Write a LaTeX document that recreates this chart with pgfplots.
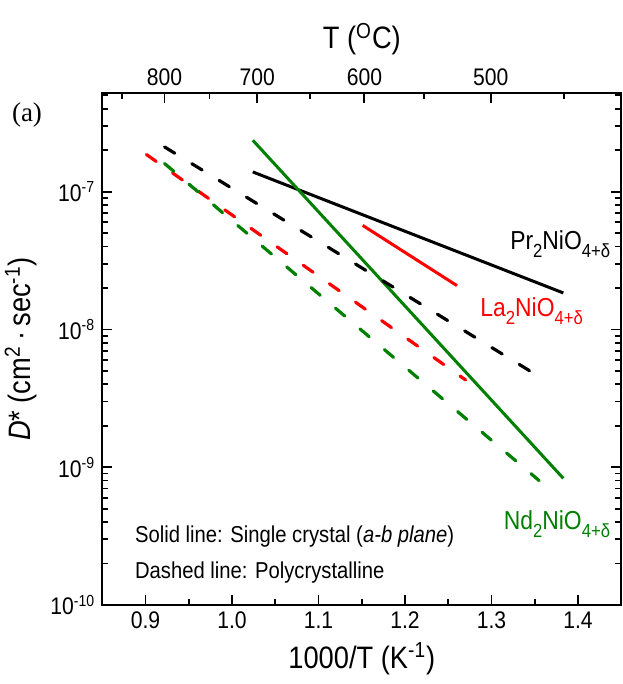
\documentclass[border=0pt]{standalone}
\usepackage{fontspec}
\setmainfont{Liberation Sans}[FakeStretch=0.88]
\newfontfamily\serif{Liberation Serif}
\usepackage{pgfplots}
\pgfplotsset{compat=1.18}
\definecolor{dgreen}{RGB}{0,128,0}
\newcommand{\sub}[1]{\raisebox{-0.3em}{\fontsize{9.5}{9.5}\selectfont #1}}

\pgfplotsset{
  common/.style={
    at={(0,0)}, anchor=south west,
    scale only axis, width=259.5pt, height=256pt,
    xmin=0.85, xmax=1.45,
    tick align=inside,
    major tick length=5pt, minor tick length=3pt,
    tick style={black, line width=0.9pt},
    axis line style={-, line width=1pt},
    ticklabel style={font=\fontsize{12}{14}\selectfont},
    label style={font=\fontsize{15.5}{18}\selectfont},
  },
  sol/.style={line width=1.5pt},
  dsh/.style={line width=1.6pt, line cap=round, dash pattern=on 6pt off 10pt},
}

\begin{document}
\begin{tikzpicture}
\path[use as bounding box] (-51.15pt,-39.5pt) rectangle (259.85pt,302.5pt);

\begin{axis}[
  common,
  ymode=log, ymin=1e-10, ymax=5.2e-7,
  xtick={0.9,1.0,1.1,1.2,1.3,1.4},
  xticklabels={0.9,1.0,1.1,1.2,1.3,1.4},
  minor xtick={0.95,1.05,1.15,1.25,1.35},
  xtick pos=lower,
  ytick={1e-10,1e-9,1e-8,1e-7},
  yticklabels={10\textsuperscript{-10},10\textsuperscript{-9},10\textsuperscript{-8},10\textsuperscript{-7}},
  minor ytick={2e-10,3e-10,4e-10,5e-10,6e-10,7e-10,8e-10,9e-10,
               2e-9,3e-9,4e-9,5e-9,6e-9,7e-9,8e-9,9e-9,
               2e-8,3e-8,4e-8,5e-8,6e-8,7e-8,8e-8,9e-8,
               2e-7,3e-7,4e-7,5e-7},
  xlabel={1000/T (K\textsuperscript{-1})},
  ylabel={\textit{D}* (cm\textsuperscript{2}\,·\,sec\textsuperscript{-1})},
]
% solid lines: single crystal
\addplot[sol, black] coordinates {(1.024,1.39e-7) (1.383,1.84e-8)};
\addplot[sol, red] coordinates {(1.151,5.69e-8) (1.260,2.08e-8)};
\addplot[sol, dgreen] coordinates {(1.024,2.36e-7) (1.383,8.3e-10)};
% dashed lines: polycrystalline
\addplot[dsh, black] coordinates {(0.922,2.11e-7) (1.360,4.35e-9)};
\addplot[dsh, red] coordinates {(0.901,1.86e-7) (1.270,4.3e-9)};
\addplot[dsh, dgreen] coordinates {(0.922,1.6e-7) (1.355,8.0e-10)};

\node[anchor=base west, font=\fontsize{13}{15}\selectfont] at (axis cs:1.3135,3.79e-8) {Pr\sub{2}NiO\sub{4+δ}};
\node[anchor=base west, text=red, font=\fontsize{13}{15}\selectfont] at (axis cs:1.279,1.24e-8) {La\sub{2}NiO\sub{4+δ}};
\node[anchor=base west, text=dgreen, font=\fontsize{13}{15}\selectfont] at (axis cs:1.306,3.51e-10) {Nd\sub{2}NiO\sub{4+δ}};

\node[anchor=base west, font=\fontsize{11.5}{13}\selectfont] at (axis cs:0.8797,2.82e-10) {Solid line: Single crystal (\textit{a-b plane})};
\node[anchor=base west, font=\fontsize{11.5}{13}\selectfont] at (axis cs:0.8797,1.57e-10) {Dashed line: Polycrystalline};
\end{axis}

\begin{axis}[
  common,
  ymin=0, ymax=1,
  axis x line*=top, hide y axis,
  xtick={0.922,1.029,1.153,1.299},
  xticklabels={800,700,600,500},
  minor xtick={0.873,0.974,1.090,1.222,1.384},
  xlabel={T (\textsuperscript{O}C)},
]
\end{axis}

\node[font=\serif\fontsize{13.5}{15}\selectfont] at (-37.65pt,245pt) {(a)};
\end{tikzpicture}
\end{document}
